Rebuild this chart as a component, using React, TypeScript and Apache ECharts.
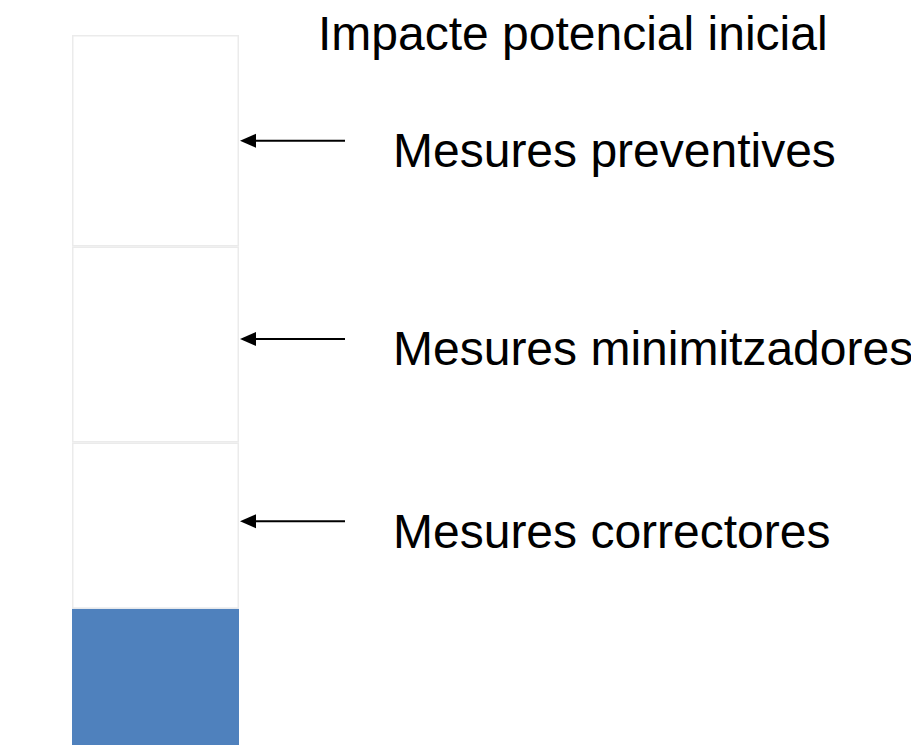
import React, { useEffect, useRef } from "react";
import * as echarts from "echarts";

const categories = ["Impacte"];
const segmentNames = ["Impacte residual", "Mesures correctores", "Mesures minimitzadores", "Mesures preventives"];
const segmentValues = [19.2, 23.4, 27.6, 29.8];
const segmentColors = ["#4f81bd", "#ffffff", "#ffffff", "#ffffff"];
const titleText = "Impacte potencial inicial";
const arrowLabels = ["Mesures preventives", "Mesures minimitzadores", "Mesures correctores"];
const arrowValues = [85.1, 57.2, 31.5];

export default function App() {
  const ref = useRef<HTMLDivElement>(null);
  useEffect(() => {
    if (!ref.current) return;
    const chart = echarts.init(ref.current, null, { renderer: "svg" });
    const series = segmentValues.map((v, i) => ({
      type: "bar",
      name: segmentNames[i],
      stack: "total",
      data: [v],
      barWidth: "100%",
      itemStyle: {
        color: segmentColors[i],
        borderColor: i === 0 ? "#4f81bd" : "#ebebeb",
        borderWidth: i === 0 ? 0 : 1.5,
      },
    }));
    chart.setOption({
      animation: false,
      grid: { left: 64, top: 27, width: 167, bottom: 0 },
      xAxis: { type: "category", data: categories, show: false },
      yAxis: { type: "value", min: 0, max: 100, show: false },
      series,
    });
    const fontFamily = "'Liberation Sans', Arial, sans-serif";
    const elements: any[] = [
      {
        type: "text",
        x: 310,
        y: 25,
        style: { text: titleText, fontSize: 48, fontFamily, fill: "#000", textVerticalAlign: "middle" },
      },
    ];
    arrowValues.forEach((v, i) => {
      const y = chart.convertToPixel({ yAxisIndex: 0 }, v) as number;
      const tipX = 232;
      const endX = 337;
      elements.push({
        type: "line",
        shape: { x1: tipX + 12, y1: y, x2: endX, y2: y },
        style: { stroke: "#000", lineWidth: 2 },
      });
      elements.push({
        type: "polygon",
        shape: { points: [[tipX, y], [tipX + 16, y - 7], [tipX + 16, y + 7]] },
        style: { fill: "#000" },
      });
      elements.push({
        type: "text",
        x: 385,
        y: y + 10,
        style: { text: arrowLabels[i], fontSize: 48, fontFamily, fill: "#000", textVerticalAlign: "middle" },
      });
    });
    chart.setOption({ graphic: { elements } });
    return () => chart.dispose();
  }, []);
  return <div ref={ref} style={{ width: 911, height: 737 }} />;
}
